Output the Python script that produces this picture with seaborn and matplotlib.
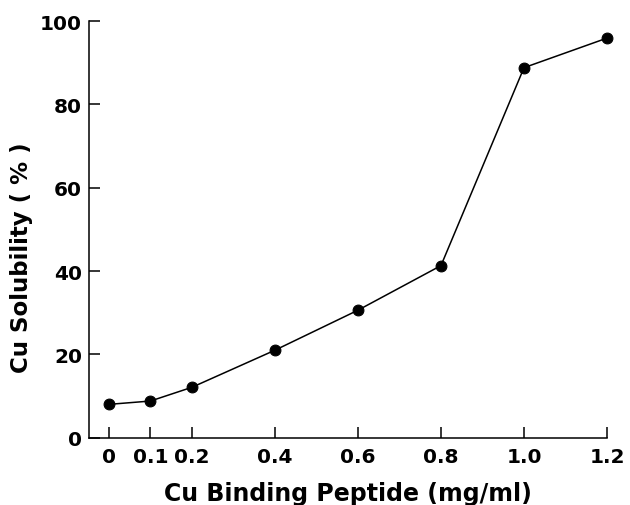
import matplotlib
matplotlib.use("Agg")
import matplotlib.pyplot as plt
import seaborn as sns
import pandas as pd

# Cu binding peptide concentration (mg/ml) and resulting Cu solubility (%)
peptide_conc = [0.0, 0.1, 0.2, 0.4, 0.6, 0.8, 1.0, 1.2]
cu_solubility = [8.0, 8.8, 12.1, 21.0, 30.6, 41.3, 88.8, 95.9]

x_ticks = [0.0, 0.1, 0.2, 0.4, 0.6, 0.8, 1.0, 1.2]
x_tick_labels = ["0", "0.1", "0.2", "0.4", "0.6", "0.8", "1.0", "1.2"]
y_ticks = [0, 20, 40, 60, 80, 100]

df = pd.DataFrame({"conc": peptide_conc, "sol": cu_solubility})

sns.set_theme(style="ticks")
plt.rcParams["font.family"] = ["DejaVu Sans"]
plt.rcParams["font.weight"] = "bold"

fig = plt.figure(figsize=(6.3, 5.06), dpi=100)
ax = fig.add_axes([0.1413, 0.133, 0.8222, 0.8235])

sns.lineplot(data=df, x="conc", y="sol", ax=ax, color="black", linewidth=1.1,
             marker="o", markersize=7.8, markeredgecolor="black",
             markerfacecolor="black", clip_on=False)

ax.set_xlim(-0.048, 1.2)
ax.set_ylim(0, 100)
ax.set_xticks(x_ticks)
ax.set_xticklabels(x_tick_labels)
ax.set_yticks(y_ticks)

for side in ("top", "right"):
    ax.spines[side].set_visible(False)
for side in ("left", "bottom"):
    ax.spines[side].set_linewidth(1.1)
    ax.spines[side].set_color("black")

ax.tick_params(axis="both", direction="in", length=8, width=1.1,
               colors="black", labelsize=14.5)
ax.tick_params(axis="x", pad=7)
ax.tick_params(axis="y", pad=5)
for lbl in ax.get_xticklabels() + ax.get_yticklabels():
    lbl.set_fontweight("bold")

ax.set_xlabel("Cu Binding Peptide (mg/ml)", fontsize=17, fontweight="bold",
              color="black")
ax.set_ylabel("Cu Solubility ( % )", fontsize=16.5, fontweight="bold",
              color="black")
ax.xaxis.set_label_coords(0.5, -0.104)
ax.yaxis.set_label_coords(-0.108, 0.434)

fig.savefig("out.png", dpi=100, facecolor="white")
